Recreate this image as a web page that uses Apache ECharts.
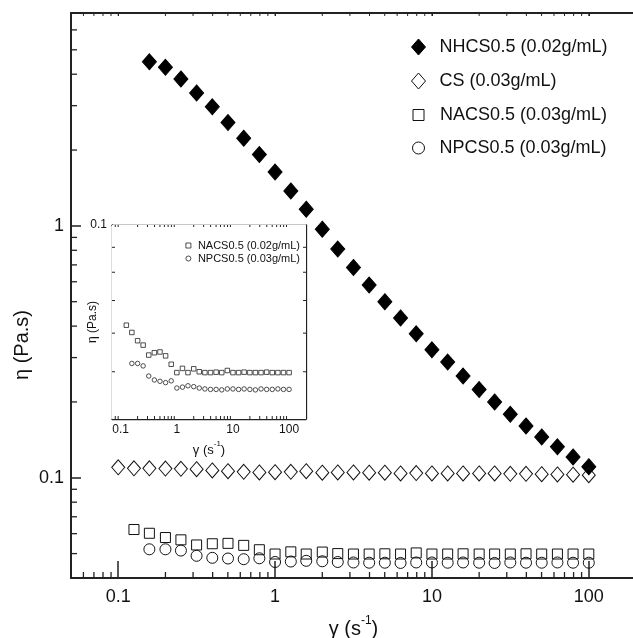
<!DOCTYPE html>
<html><head><meta charset="utf-8">
<script src="https://cdn.jsdelivr.net/npm/echarts@6/dist/echarts.min.js"></script>
<style>html,body{margin:0;padding:0;background:#fff}#c{width:633px;height:638px}</style>
</head><body><div id="c"></div>
<script>
// ---- data ----
const shearRate = [0.1,0.126,0.158,0.2,0.251,0.316,0.398,0.501,0.631,0.794,1,1.26,1.58,2,2.51,3.16,3.98,5.01,6.31,7.94,10,12.6,15.8,20,25.1,31.6,39.8,50.1,63.1,79.4,100];
const nhcs = [null,null,4.48,4.26,3.83,3.37,2.97,2.57,2.23,1.92,1.636,1.376,1.165,0.970,0.809,0.684,0.582,0.500,0.431,0.373,0.322,0.288,0.2535,0.224,0.200,0.1786,0.1606,0.1453,0.1327,0.121,0.1106];
const cs = [0.110,0.109,0.109,0.1088,0.1085,0.1082,0.1069,0.1062,0.1056,0.105,0.1052,0.1056,0.1062,0.1047,0.105,0.105,0.1047,0.1047,0.104,0.1044,0.104,0.104,0.104,0.104,0.104,0.1037,0.1037,0.1033,0.1031,0.1028,0.1024];
const nacs = [null,0.0623,0.0602,0.0579,0.0567,0.0541,0.0547,0.0549,0.0539,0.0518,0.0498,0.0508,0.0498,0.0507,0.0500,0.0498,0.0498,0.0499,0.0498,0.0503,0.0498,0.0498,0.0499,0.0498,0.0498,0.0498,0.0499,0.0498,0.0498,0.0498,0.0498];
const npcs = [null,null,0.0520,0.0520,0.0514,0.0490,0.0481,0.0478,0.0475,0.0479,0.0463,0.0465,0.0468,0.0466,0.0463,0.0461,0.0460,0.0460,0.0459,0.0461,0.0461,0.0460,0.0461,0.0460,0.0459,0.0461,0.0460,0.0460,0.0461,0.0460,0.0460];

const seriesNames = ['NHCS0.5 (0.02g/mL)','CS (0.03g/mL)','NACS0.5 (0.03g/mL)','NPCS0.5 (0.03g/mL)'];
const insetNames = ['NACS0.5 (0.02g/mL)','NPCS0.5 (0.03g/mL)'];

const mainXTicks = [0.1,1,10,100];
const mainXTickLabels = ['0.1','1','10','100'];
const mainYTicks = [0.1,1];
const mainYTickLabels = ['0.1','1'];
const insetXTicks = [0.1,1,10,100];
const insetXTickLabels = ['0.1','1','10','100'];
const insetYTicks = [0.1];
const insetYTickLabels = ['0.1'];

const mainXMinor = [0.06,0.07,0.08,0.09,0.2,0.3,0.4,0.5,0.6,0.7,0.8,0.9,2,3,4,5,6,7,8,9,20,30,40,50,60,70,80,90];
const mainYMinor = [0.05,0.06,0.07,0.08,0.09,0.2,0.3,0.4,0.5,0.6,0.7,0.8,0.9,2,3,4,5,6];
const insetXMinor = [0.08,0.09,0.2,0.3,0.4,0.5,0.6,0.7,0.8,0.9,2,3,4,5,6,7,8,9,20,30,40,50,60,70,80,90];
const insetYMinor = [0.05,0.06,0.07,0.08,0.09];

const mainX = [0.05, 200], mainY = [0.04, 7];
const insetX = [0.07, 200], insetY = [0.04, 0.1];

// ---- helpers ----
const FONT = '"Liberation Sans", Arial, sans-serif';
const AX = '#222';
function pairs(vals){ const out=[]; vals.forEach((v,i)=>{ if(v!=null) out.push([shearRate[i], v]); }); return out; }
function fmt(vals, labels){ return v => { for (let i=0;i<vals.length;i++){ if (Math.abs(Math.log10(v/vals[i]))<1e-6) return labels[i]; } return ''; }; }
function tickSeries(xi, yi, pts, dir, len, w){
  return { type:'custom', xAxisIndex:xi, yAxisIndex:yi, silent:true, animation:false, clip:false, z:6,
    data: pts,
    renderItem: (params, api) => {
      const p = api.coord([api.value(0), api.value(1)]);
      let x2=p[0], y2=p[1];
      if (dir==='up') y2 -= len; else if (dir==='down') y2 += len; else if (dir==='right') x2 += len; else x2 -= len;
      return {type:'line', shape:{x1:p[0],y1:p[1],x2:x2,y2:y2}, style:{stroke:AX, lineWidth:w}};
    }};
}
function logAxis(grid, range, pos, opts){
  return Object.assign({
    gridIndex:grid, type:'log', logBase:10, min:range[0], max:range[1], position:pos,
    axisLine:{show:true, onZero:false, lineStyle:{color:AX, width:2}},
    axisTick:{show:true, inside:true, length:4, lineStyle:{color:AX, width:1.3}},
    axisLabel:{show:false},
    splitLine:{show:false}, minorTick:{show:false}, minorSplitLine:{show:false}
  }, opts||{});
}

const chart = echarts.init(document.getElementById('c'), null, {renderer:'canvas', width:633, height:638});

const rich = (big, small) => ({
  a:{fontSize:big, fontFamily:FONT, color:'#111', verticalAlign:'bottom', lineHeight:big+4},
  s:{fontSize:small, fontFamily:FONT, color:'#111', verticalAlign:'top', lineHeight:big+4}
});

function legendFor(name, left, top, w, h, fs, pad, style){
  return { data:[name], orient:'vertical', left:left, top:top, itemWidth:w, itemHeight:h, selectedMode:false,
    itemStyle:style, padding:0,
    textStyle:{fontSize:fs, fontFamily:FONT, color:'#111', padding:[0,0,0,pad]} };
}
const filled = {color:'#000', borderColor:'#000', borderWidth:1, opacity:1};
const open = {color:'rgba(0,0,0,0)', borderColor:'#111', borderWidth:1, opacity:1};
const openThin = {color:'rgba(0,0,0,0)', borderColor:'#222', borderWidth:0.8, opacity:1};

const option = {
  animation:false,
  backgroundColor:'#fff',
  grid:[
    {left:71, top:13, width:565, height:565, outerBoundsMode:'none', containLabel:false},
    {left:112, top:225, width:194, height:194, outerBoundsMode:'none', containLabel:false, show:true, backgroundColor:'#fff', borderWidth:0, z:3}
  ],
  xAxis:[
    logAxis(0, mainX, 'bottom', {
      axisTick:{show:true, inside:true, length:17, lineStyle:{color:AX, width:1.5}},
      axisLabel:{show:true, formatter:fmt(mainXTicks, mainXTickLabels), fontSize:18, fontFamily:FONT, color:'#111', margin:10},
      name:'{a|γ (s}{s|-1}{a|)}', nameLocation:'middle', nameGap:37, nameMoveOverlap:false,
      nameTextStyle:{rich:rich(20,12)}
    }),
    logAxis(0, mainX, 'top', {axisTick:{show:true, inside:true, length:3, lineStyle:{color:AX, width:1}}}),
    logAxis(1, insetX, 'bottom', {
      axisLine:{show:true, onZero:false, lineStyle:{color:AX, width:1.3}},
      axisTick:{show:true, inside:true, length:5, lineStyle:{color:AX, width:1}},
      axisLabel:{show:true, formatter:fmt(insetXTicks, insetXTickLabels), fontSize:12, fontFamily:FONT, color:'#111', margin:5},
      name:'{a|γ (s}{s|-1}{a|)}', nameLocation:'middle', nameGap:21, nameMoveOverlap:false,
      nameTextStyle:{rich:rich(13,8)}
    }),
    logAxis(1, insetX, 'top', {axisLine:{show:true, onZero:false, lineStyle:{color:AX, width:1.3}}, axisTick:{show:true, inside:true, length:2, lineStyle:{color:AX, width:1}}})
  ],
  yAxis:[
    logAxis(0, mainY, 'left', {
      axisTick:{show:true, inside:true, length:10, lineStyle:{color:AX, width:1.5}},
      axisLabel:{show:true, formatter:fmt(mainYTicks, mainYTickLabels), fontSize:18, fontFamily:FONT, color:'#111', margin:7}
    }),
    logAxis(1, insetY, 'left', {
      axisLine:{show:true, onZero:false, lineStyle:{color:AX, width:1.3}},
      axisTick:{show:true, inside:true, length:4, lineStyle:{color:AX, width:1}},
      axisLabel:{show:true, formatter:fmt(insetYTicks, insetYTickLabels), fontSize:12, fontFamily:FONT, color:'#111', margin:5},
      name:'η (Pa.s)', nameLocation:'middle', nameGap:13, nameMoveOverlap:false,
      nameTextStyle:{fontSize:12, fontFamily:FONT, color:'#111'}
    }),
    logAxis(1, insetY, 'right', {axisLine:{show:true, onZero:false, lineStyle:{color:AX, width:1.3}}, axisTick:{show:true, inside:true, length:3, lineStyle:{color:AX, width:1}}})
  ],
  graphic:[
    {type:'text', x:22, y:345, rotation:Math.PI/2, z:10,
     style:{text:'η (Pa.s)', fontSize:20, fontFamily:FONT, fill:'#111', align:'center', verticalAlign:'middle'}}
  ],
  legend:[
    legendFor(seriesNames[0], 411, 38, 14, 16, 18, 9, filled),
    legendFor(seriesNames[1], 411, 72, 14, 16, 18, 9, open),
    legendFor(seriesNames[2], 412.5, 106, 11, 11, 18, 11, open),
    legendFor(seriesNames[3], 412, 139, 12, 13, 18, 10, open),
    legendFor(insetNames[0], 185.5, 240, 5, 5, 11, 2, openThin),
    legendFor(insetNames[1], 185.5, 253, 5, 5, 11, 2, openThin)
  ],
  series:[
    {name:seriesNames[0], type:'scatter', xAxisIndex:0, yAxisIndex:0, symbol:'diamond', symbolSize:[14,16], itemStyle:filled, data:pairs(nhcs), z:4},
    {name:seriesNames[1], type:'scatter', xAxisIndex:0, yAxisIndex:0, symbol:'diamond', symbolSize:[13,15], itemStyle:open, data:pairs(cs), z:4},
    {name:seriesNames[2], type:'scatter', xAxisIndex:0, yAxisIndex:0, symbol:'rect', symbolSize:10, itemStyle:open, data:pairs(nacs), z:4},
    {name:seriesNames[3], type:'scatter', xAxisIndex:0, yAxisIndex:0, symbol:'circle', symbolSize:11, itemStyle:open, data:pairs(npcs), z:4},
    {name:insetNames[0], type:'scatter', xAxisIndex:2, yAxisIndex:1, symbol:'rect', symbolSize:4.5, itemStyle:openThin, data:pairs(nacs), z:5},
    {name:insetNames[1], type:'scatter', xAxisIndex:2, yAxisIndex:1, symbol:'circle', symbolSize:4.5, itemStyle:openThin, data:pairs(npcs), z:5},
    tickSeries(0,0, mainXMinor.map(v=>[v, mainY[0]]), 'up', 6, 1.3),
    tickSeries(0,0, mainXMinor.concat(mainXTicks).map(v=>[v, mainY[1]]), 'down', 3, 1),
    tickSeries(0,0, mainYMinor.map(v=>[mainX[0], v]), 'right', 6, 1.3),
    tickSeries(2,1, insetXMinor.map(v=>[v, insetY[0]]), 'up', 3, 1),
    tickSeries(2,1, insetXMinor.map(v=>[v, insetY[1]]), 'down', 2, 1),
    tickSeries(2,1, insetYMinor.map(v=>[insetX[0], v]), 'right', 3, 1),
    tickSeries(2,1, insetYMinor.map(v=>[insetX[1], v]), 'left', 3, 1)
  ]
};
chart.setOption(option);
</script>
</body></html>
